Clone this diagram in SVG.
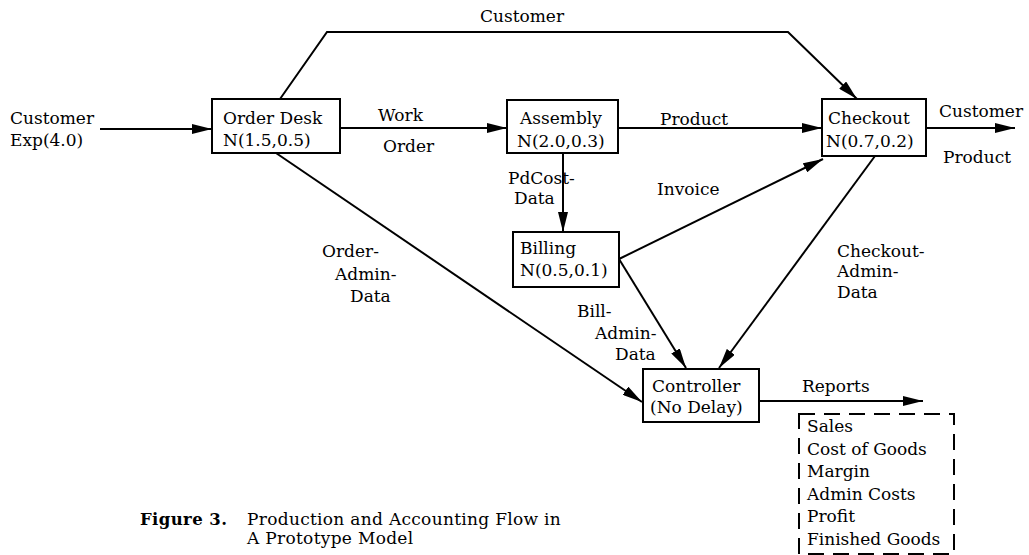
<svg xmlns="http://www.w3.org/2000/svg" width="1029" height="555" viewBox="0 0 1029 555">
<defs>
<marker id="ah" markerUnits="userSpaceOnUse" markerWidth="20" markerHeight="10" refX="20" refY="5" orient="auto">
<path d="M0,0 L20,5 L0,10 z" fill="#000"/>
</marker>
<style>
text{font-family:"DejaVu Serif","Liberation Serif",serif;font-size:17px;fill:#000}
.box{fill:#fff;stroke:#000;stroke-width:2}
.edge{fill:none;stroke:#000;stroke-width:2;marker-end:url(#ah)}
.cap{font-size:17px;letter-spacing:0.3px}
.capb{font-weight:bold;font-size:16.5px;letter-spacing:0.4px}
</style>
</defs>
<rect width="1029" height="555" fill="#fff"/>
<g id="connectors">
<line class="edge" x1="100" y1="129" x2="212" y2="129"/>
<polyline class="edge" points="280,99 327,32 788,32 857,99"/>
<line class="edge" x1="340" y1="128" x2="507" y2="128"/>
<line class="edge" x1="618" y1="128" x2="822" y2="128"/>
<line class="edge" x1="926" y1="128" x2="1015" y2="128"/>
<line class="edge" x1="563" y1="153" x2="563" y2="232"/>
<line class="edge" x1="619" y1="259" x2="823" y2="159"/>
<line class="edge" x1="619" y1="259" x2="686" y2="368"/>
<line class="edge" x1="875" y1="156" x2="719" y2="368"/>
<line class="edge" x1="276" y1="153" x2="642" y2="402"/>
<line class="edge" x1="759" y1="401" x2="923" y2="401"/>
</g>
<g id="edge-labels">
<text x="10" y="124">Customer</text>
<text x="10" y="146">Exp(4.0)</text>
<text x="480" y="22">Customer</text>
<text x="378" y="121">Work</text>
<text x="383" y="152">Order</text>
<text x="660" y="125">Product</text>
<text x="939" y="117">Customer</text>
<text x="943" y="163">Product</text>
<text x="508" y="184">PdCost-</text>
<text x="514" y="204">Data</text>
<text x="657" y="195">Invoice</text>
<text x="322" y="257">Order-</text>
<text x="335" y="280">Admin-</text>
<text x="350" y="302">Data</text>
<text x="577" y="317">Bill-</text>
<text x="595" y="339">Admin-</text>
<text x="615" y="360">Data</text>
<text x="837" y="257">Checkout-</text>
<text x="837" y="277">Admin-</text>
<text x="837" y="298">Data</text>
<text x="802" y="392">Reports</text>
</g>
<g id="order-desk">
<rect class="box" x="212" y="99" width="128" height="54"/>
<text x="223" y="124">Order Desk</text>
<text x="223" y="146">N(1.5,0.5)</text>
</g>
<g id="assembly">
<rect class="box" x="507" y="100" width="111" height="53"/>
<text x="520" y="124">Assembly</text>
<text x="517" y="147">N(2.0,0.3)</text>
</g>
<g id="checkout">
<rect class="box" x="822" y="99" width="104" height="57"/>
<text x="828" y="124">Checkout</text>
<text x="826" y="147">N(0.7,0.2)</text>
</g>
<g id="billing">
<rect class="box" x="513" y="232" width="106" height="55"/>
<text x="520" y="254">Billing</text>
<text x="520" y="276">N(0.5,0.1)</text>
</g>
<g id="controller">
<rect class="box" x="643" y="369" width="116" height="53"/>
<text x="652" y="392">Controller</text>
<text x="650" y="413">(No Delay)</text>
</g>
<g id="reports">
<rect x="799" y="414" width="155" height="140" fill="none" stroke="#000" stroke-width="2" stroke-dasharray="16 9"/>
<text x="807" y="432">Sales</text>
<text x="807" y="455">Cost of Goods</text>
<text x="807" y="477">Margin</text>
<text x="807" y="500">Admin Costs</text>
<text x="807" y="522">Profit</text>
<text x="807" y="545">Finished Goods</text>
</g>
<g id="caption">
<text class="capb" x="140" y="525">Figure 3.</text>
<text class="cap" x="247" y="525">Production and Accounting Flow in</text>
<text class="cap" x="247" y="544">A Prototype Model</text>
</g>
</svg>
